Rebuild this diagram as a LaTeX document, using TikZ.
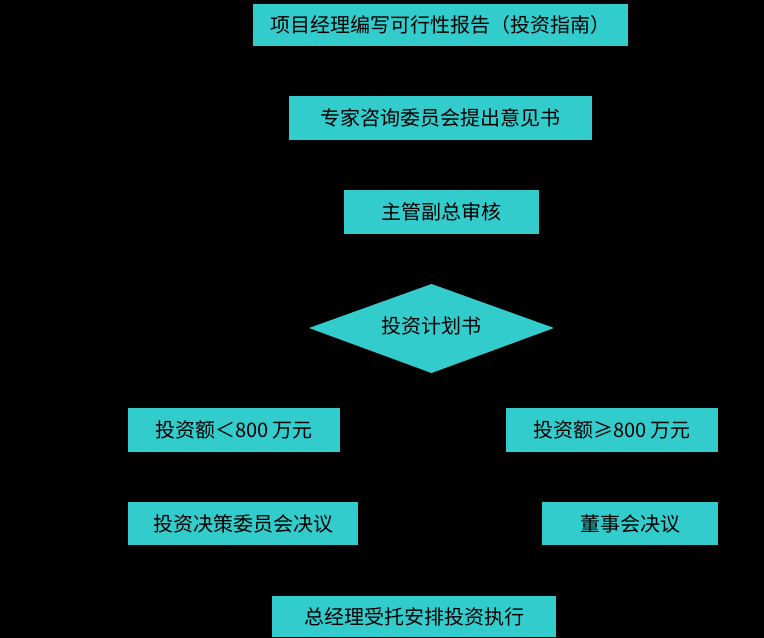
\documentclass[tikz,border=0pt]{standalone}
\usepackage{fontspec}
\setmainfont{Noto Sans CJK SC}
\begin{document}
\begin{tikzpicture}[x=0.75pt,y=-0.75pt,
  box/.style={fill=boxc,draw=none,inner sep=0pt,font=\fontsize{15pt}{18pt}\selectfont,text=black},
  lbl/.style={font=\fontsize{15pt}{18pt}\selectfont,text=black}]
\definecolor{boxc}{HTML}{33CCCC}
\fill[black] (0,0) rectangle (764,638);
\useasboundingbox (0,0) rectangle (764,638);
\node[box,minimum width=375*0.75pt,minimum height=42*0.75pt] (a) at (440.5,25) {项目经理编写可行性报告（投资指南）};
\node[box,minimum width=303*0.75pt,minimum height=44*0.75pt] (b) at (440.5,118) {专家咨询委员会提出意见书};
\node[box,minimum width=195*0.75pt,minimum height=44*0.75pt] (c) at (441.5,212) {主管副总审核};
\fill[boxc] (309,328) -- (431.5,284) -- (554,328) -- (431.5,373) -- cycle;
\node[lbl] (d) at (431.5,326) {投资计划书};
\node[box,minimum width=212*0.75pt,minimum height=44*0.75pt] (e) at (234,430) {投资额＜800 万元};
\node[box,minimum width=212*0.75pt,minimum height=44*0.75pt] (f) at (612,430) {投资额≥800 万元};
\node[box,minimum width=230*0.75pt,minimum height=43*0.75pt] (g) at (243,523.5) {投资决策委员会决议};
\node[box,minimum width=176*0.75pt,minimum height=43*0.75pt] (h) at (630,523.5) {董事会决议};
\node[box,minimum width=284*0.75pt,minimum height=41*0.75pt] (i) at (414,616.5) {总经理受托安排投资执行};
\end{tikzpicture}
\end{document}
